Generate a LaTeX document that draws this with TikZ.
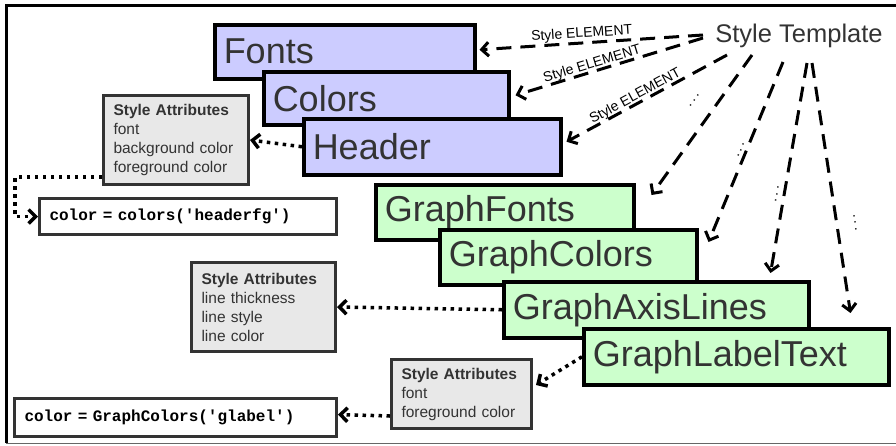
\documentclass[tikz,border=0pt]{standalone}
\usepackage{fontspec}
\setmainfont{Liberation Sans}
\setmonofont{Liberation Mono}
\usetikzlibrary{arrows.meta,calc}

\definecolor{lav}{HTML}{CCCCFF}
\definecolor{mint}{HTML}{CCFFCC}
\definecolor{attrfill}{HTML}{E8E8E8}
\definecolor{ink}{HTML}{333333}

\begin{document}
\begin{tikzpicture}[x=1pt,y=-1pt,
  elem/.style={draw=black, line width=3.5pt, anchor=north west, inner xsep=9pt,
    inner ysep=0pt, align=left, text=ink, font=\fontsize{36}{40}\selectfont},
  lavbox/.style={elem, fill=lav},
  mintbox/.style={elem, fill=mint},
  attrbox/.style={draw=ink, fill=attrfill, line width=3pt, anchor=north west,
    inner xsep=10pt, inner ysep=0pt, align=left, text=ink,
    font=\fontsize{15.5}{19}\selectfont},
  codebox/.style={draw=ink, fill=white, line width=3pt, anchor=north west,
    inner xsep=10pt, inner ysep=0pt, align=left, text=black,
    font=\ttfamily\bfseries\fontsize{16}{19}\selectfont},
  linkdash/.style={line width=3pt, dash pattern=on 15pt off 9pt,
    -{Straight Barb[length=7pt,width=14pt]}},
  linkdot/.style={line width=3.5pt, dash pattern=on 3.5pt off 4.5pt,
    -{Straight Barb[length=7pt,width=14pt]}},
  elemlabel/.style={sloped, inner sep=0pt, text=black, font=\fontsize{14}{14}\selectfont},
  dotlabel/.style={sloped, inner sep=0pt, text=black, font=\fontsize{14}{14}\selectfont},
]
\useasboundingbox (0,0) rectangle (896,445);

% outer frame
\draw[line width=3pt] (6,443) -- (6,5) -- (896,5);
\draw[line width=1pt, black!60] (6,443) -- (896,443);

% template title
\node[inner sep=2pt, text=ink, font=\fontsize{25.5}{30}\selectfont] (tmpl) at (799,36) {Style Template};

% style elements, upper group
\node[lavbox, text width=242pt, minimum height=54pt] (fonts)  at (213,23)  {Fonts};
\node[lavbox, text width=227pt, minimum height=53pt] (colors) at (262,70)  {Colors};
\node[lavbox, text width=239pt, minimum height=56pt] (header) at (302,117) {Header};

% style elements, graph group
\node[mintbox, text width=240pt, minimum height=55pt] (gfonts)  at (374,183) {GraphFonts};
\node[mintbox, text width=239pt, minimum height=55pt] (gcolors) at (438,228) {GraphColors};
\node[mintbox, text width=287pt, minimum height=56pt] (gaxis)   at (502,280) {GraphAxisLines};
\node[mintbox, text width=287pt, minimum height=56pt] (glabel)  at (582,327) {GraphLabelText};

% attribute lists
\node[attrbox, text width=125pt, minimum height=89pt] (sa1) at (102,94)
  {\textbf{Style Attributes}\\font\\background color\\foreground color};
\node[attrbox, text width=124pt, minimum height=89pt] (sa2) at (190,261)
  {\textbf{Style Attributes}\\line thickness\\line style\\line color};
\node[attrbox, text width=120pt, minimum height=69pt] (sa3) at (390,358)
  {\textbf{Style Attributes}\\font\\foreground color};

% code samples
\node[codebox, text width=277pt, minimum height=36pt] (code1) at (38,197)
  {color = colors(\textquotesingle headerfg\textquotesingle)};
\node[codebox, text width=302pt, minimum height=38pt] (code2) at (13,397)
  {color = GraphColors(\textquotesingle glabel\textquotesingle)};

% template to elements
\draw[linkdash] ($(tmpl.center)+(-96,-1)$) -- ($(fonts.east)+(3,-2)$)
  node[elemlabel, above=1pt, pos=0.54] {Style ELEMENT};
\draw[linkdash] ($(tmpl.center)+(-96,2)$) -- ($(colors.east)+(5,-3)$)
  node[elemlabel, above=-1pt, pos=0.58] {Style ELEMENT};
\draw[linkdash] ($(tmpl.center)+(-72,19)$) -- ($(header.east)+(4,-5)$)
  node[elemlabel, above=-1pt, pos=0.55] {Style ELEMENT};
\draw[linkdash] ($(tmpl.center)+(-47,19)$) -- ($(gfonts.north east)+(16,12)$)
  node[dotlabel, above=18pt, pos=0.41] {.\,.\,.};
\draw[linkdash] ($(tmpl.center)+(-16,26)$) -- ($(gcolors.north east)+(10,14)$)
  node[dotlabel, above=3pt, pos=0.5] {.\,.\,.};
\draw[linkdash] ($(tmpl.center)+(8,27)$) -- ($(gaxis.north east)+(-40,-7)$)
  node[dotlabel, above=5pt, pos=0.63] {.\,.\,.};
\draw[linkdash] ($(tmpl.center)+(13,27)$) -- ($(glabel.north east)+(-40,-14)$)
  node[dotlabel, above=16pt, pos=0.65] {.\,.\,.};

% elements to attributes, attributes to code
\draw[linkdot] (header.west) -- (sa1.east);
\draw[linkdot] ($(sa1.south west)+(0,-9)$) -| ($(code1.west)+(-23,0)$) -- (code1.west);
\draw[linkdot] (gaxis.west) -- (sa2.east);
\draw[linkdot] (glabel.west) -- ($(sa3.east)+(3,-9)$);
\draw[linkdot] ($(sa3.south west)+(0,-14)$) -- ($(code2.east)+(0,-3)$);
\end{tikzpicture}
\end{document}
